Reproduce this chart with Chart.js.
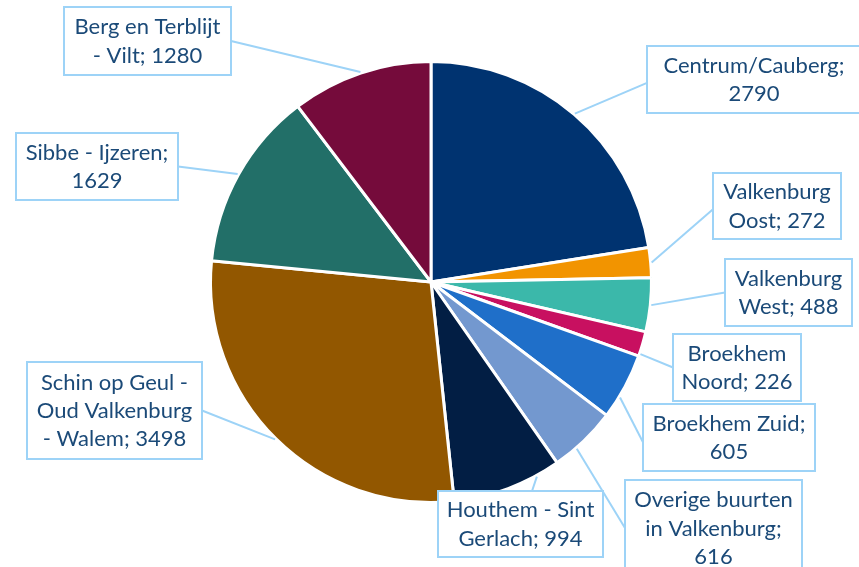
<!DOCTYPE html>
<html>
<head>
<meta charset="utf-8">
<script src="https://cdn.jsdelivr.net/npm/chart.js@4"></script>
<style>
  html, body { margin: 0; padding: 0; background: #fff; }
  canvas { display: block; }
</style>
</head>
<body>
<canvas id="chart" width="859" height="567"></canvas>
<script>
const categories = [
  "Centrum/Cauberg",
  "Valkenburg Oost",
  "Valkenburg West",
  "Broekhem Noord",
  "Broekhem Zuid",
  "Overige buurten in Valkenburg",
  "Houthem - Sint Gerlach",
  "Schin op Geul - Oud Valkenburg - Walem",
  "Sibbe - Ijzeren",
  "Berg en Terblijt - Vilt"
];
const values = [2790, 272, 488, 226, 605, 616, 994, 3498, 1629, 1280];
const colors = [
  "#003370", "#f29400", "#3bb8aa", "#c81060", "#1f6fc9",
  "#7398cf", "#021e44", "#925700", "#226f68", "#750b3b"
];

// callout boxes: rect, where the leader leaves the box (fraction), where it hits the slice (t), words per line
const labelBoxes = [
  { x: 647, y: 46, w: 214, h: 67, ax: 0, ay: 0.55, t: 0.5, wrap: [1, 1] },
  { x: 713, y: 173, w: 128, h: 66, ax: 0, ay: 0.55, t: 0.5, wrap: [1, 2] },
  { x: 725, y: 259, w: 127, h: 67, ax: 0, ay: 0.5, t: 0.5, wrap: [1, 2] },
  { x: 673, y: 334, w: 128, h: 67, ax: 0, ay: 0.5, t: 0.9, wrap: [1, 2] },
  { x: 643, y: 404, w: 172, h: 67, ax: 0, ay: 0.57, t: 0.67, wrap: [2, 1] },
  { x: 625, y: 480, w: 177, h: 96, ax: 0, ay: 0.5, t: 0.65, wrap: [2, 2, 1] },
  { x: 438, y: 491, w: 165, h: 66, ax: 0.57, ay: 0, t: 0.22, wrap: [3, 2] },
  { x: 27, y: 362, w: 175, h: 97, ax: 1, ay: 0.5, t: 0.5, wrap: [4, 2, 3] },
  { x: 16, y: 133, w: 162, h: 67, ax: 1, ay: 0.5, t: 0.5, wrap: [3, 1] },
  { x: 64, y: 7, w: 167, h: 68, ax: 1, ay: 0.5, t: 0.5, wrap: [3, 3] }
];

const lineColor = "#9dd3f7";
const textColor = "#1b4a78";

const calloutLabels = {
  id: "calloutLabels",
  afterDatasetsDraw(chart) {
    const ctx = chart.ctx;
    const arcs = chart.getDatasetMeta(0).data;
    ctx.save();

    ctx.strokeStyle = lineColor;
    ctx.lineWidth = 2;
    arcs.forEach((arc, i) => {
      const b = labelBoxes[i];
      const a = arc.startAngle + (arc.endAngle - arc.startAngle) * b.t;
      const px = arc.x + Math.cos(a) * (arc.outerRadius + 1);
      const py = arc.y + Math.sin(a) * (arc.outerRadius + 1);
      ctx.beginPath();
      ctx.moveTo(b.x + b.w * b.ax, b.y + b.h * b.ay);
      ctx.lineTo(px, py);
      ctx.stroke();
    });

    ctx.font = "22px Lato";
    ctx.textAlign = "center";
    ctx.textBaseline = "alphabetic";
    const lineH = 28.3;
    labelBoxes.forEach((b, i) => {
      ctx.fillStyle = "#fff";
      ctx.fillRect(b.x, b.y, b.w, b.h);
      ctx.strokeStyle = lineColor;
      ctx.lineWidth = 2;
      ctx.strokeRect(b.x, b.y, b.w, b.h);

      const words = (categories[i] + "; " + values[i]).split(" ");
      const lines = [];
      let k = 0;
      b.wrap.forEach(n => {
        lines.push(words.slice(k, k + n).join(" "));
        k += n;
      });
      const cx = b.x + b.w / 2;
      const cy = b.y + b.h / 2;
      ctx.fillStyle = textColor;
      lines.forEach((ln, j) => {
        const lc = cy + (j - (lines.length - 1) / 2) * lineH;
        ctx.fillText(ln, cx, lc + 7.5);
      });
    });
    ctx.restore();
  }
};

new Chart(document.getElementById("chart"), {
  type: "pie",
  data: {
    labels: categories,
    datasets: [{
      data: values,
      backgroundColor: colors,
      borderColor: "#ffffff",
      borderWidth: 3
    }]
  },
  options: {
    responsive: false,
    animation: false,
    layout: { padding: { left: 209, top: 60, right: 206, bottom: 63 } },
    plugins: {
      legend: { display: false },
      tooltip: { enabled: false }
    }
  },
  plugins: [calloutLabels]
});
</script>
</body>
</html>
